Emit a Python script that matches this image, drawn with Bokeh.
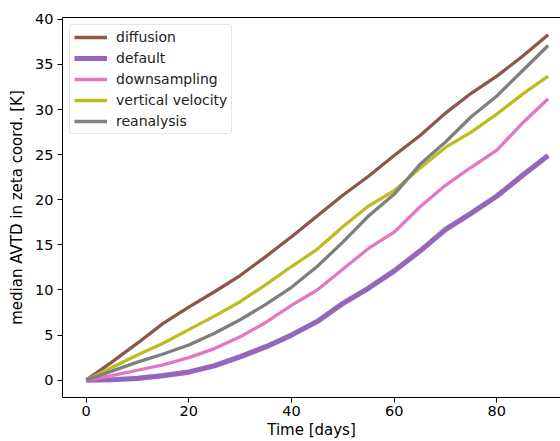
from bokeh.plotting import figure
from bokeh.models import Range1d, LinearAxis, FixedTicker, Legend, LegendItem
from bokeh.embed import file_html
from bokeh.resources import INLINE

days = [0, 5, 10, 15, 20, 25, 30, 35, 40, 45, 50, 55, 60, 65, 70, 75, 80, 85, 90]
diffusion = [0, 2.0, 4.1, 6.3, 8.1, 9.8, 11.6, 13.7, 15.9, 18.2, 20.5, 22.6, 24.9, 27.1, 29.6, 31.8, 33.7, 35.9, 38.3]
default = [0, 0.05, 0.2, 0.5, 0.9, 1.6, 2.6, 3.7, 5.0, 6.5, 8.5, 10.2, 12.1, 14.3, 16.7, 18.5, 20.4, 22.7, 24.9]
downsampling = [0, 0.5, 1.1, 1.7, 2.5, 3.5, 4.8, 6.4, 8.3, 10.0, 12.3, 14.6, 16.4, 19.2, 21.6, 23.6, 25.5, 28.5, 31.2]
vertical_velocity = [0, 1.4, 2.8, 4.1, 5.6, 7.1, 8.7, 10.6, 12.6, 14.5, 17.0, 19.3, 21.0, 23.5, 25.8, 27.5, 29.5, 31.7, 33.7]
reanalysis = [0, 1.0, 2.0, 2.9, 3.9, 5.2, 6.7, 8.4, 10.3, 12.6, 15.3, 18.2, 20.6, 23.9, 26.4, 29.2, 31.5, 34.3, 37.1]

x_ticks = [0, 20, 40, 60, 80]
y_ticks = [0, 5, 10, 15, 20, 25, 30, 35, 40]

series = [
    ("diffusion", diffusion, "#8c564b", 3.3),
    ("default", default, "#9467bd", 5.2),
    ("downsampling", downsampling, "#e377c2", 3.3),
    ("vertical velocity", vertical_velocity, "#bcbd22", 3.3),
    ("reanalysis", reanalysis, "#7f7f7f", 3.3),
]

FONT = "DejaVu Sans"
TICK_FS = "14.5px"
LABEL_FS = "15px"
LEG_FS = "14px"

p = figure(width=560, height=441, output_backend="svg", toolbar_location=None,
           x_range=Range1d(-4.6, 92.4), y_range=Range1d(-1.92, 40.2))
p.min_border_left = 62
p.min_border_right = 0
p.min_border_top = 17
p.min_border_bottom = 44
p.outline_line_color = None
p.grid.visible = False
p.background_fill_color = "white"
p.border_fill_color = "white"

items = []
for name, ys, color, lw in series:
    r = p.line(days, ys, line_color=color, line_width=lw)
    items.append(LegendItem(label=name, renderers=[r]))

for ax in (p.xaxis[0], p.yaxis[0]):
    ax.axis_line_color = "black"
    ax.axis_line_width = 1
    ax.major_tick_in = 0
    ax.major_tick_out = 5
    ax.minor_tick_line_color = None
    ax.major_label_text_font = FONT
    ax.major_label_text_font_size = TICK_FS
    ax.major_label_text_color = "black"
    ax.axis_label_text_font = FONT
    ax.axis_label_text_font_size = LABEL_FS
    ax.axis_label_text_font_style = "normal"
    ax.axis_label_text_color = "black"

p.xaxis[0].ticker = FixedTicker(ticks=x_ticks)
p.yaxis[0].ticker = FixedTicker(ticks=y_ticks)
p.xaxis[0].axis_label = "Time [days]"
p.yaxis[0].axis_label = "median AVTD in zeta coord. [K]"
p.xaxis[0].major_label_standoff = 3
p.xaxis[0].axis_label_standoff = 2
p.yaxis[0].major_label_standoff = 4
p.yaxis[0].axis_label_standoff = 6

top = LinearAxis(ticker=FixedTicker(ticks=[]), axis_line_color="black", axis_line_width=1,
                 major_tick_line_color=None, minor_tick_line_color=None,
                 major_label_text_font_size="0px")
p.add_layout(top, "above")

legend = Legend(items=items, location="top_left", margin=7, padding=4, spacing=5,
                glyph_width=33, glyph_height=16, label_height=16, label_standoff=9,
                label_text_font=FONT, label_text_font_size=LEG_FS, label_text_color="#222222",
                border_line_color="#cccccc", border_line_width=1,
                background_fill_alpha=0.8)
try:
    legend.border_radius = 3
except Exception:
    pass
p.add_layout(legend, "center")

open("out.html", "w").write(file_html(p, INLINE))
